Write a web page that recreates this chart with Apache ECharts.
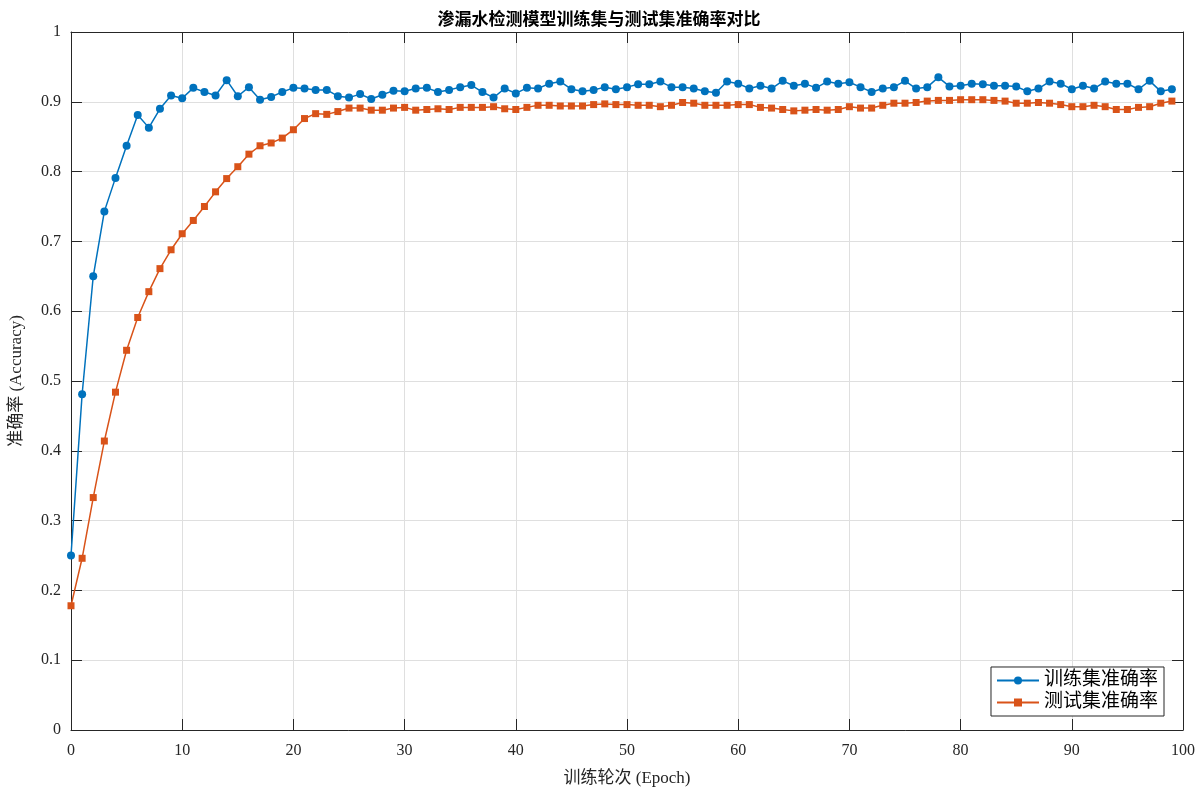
<!DOCTYPE html>
<html>
<head>
<meta charset="utf-8">
<script src="https://cdn.jsdelivr.net/npm/echarts@6/dist/echarts.min.js"></script>
<style>
html,body{margin:0;padding:0;background:#fff;}
#c{width:1198px;height:792px;}
</style>
</head>
<body>
<div id="c"></div>
<script>
const xTicks = [0,10,20,30,40,50,60,70,80,90,100];
const yTicks = [0,0.1,0.2,0.3,0.4,0.5,0.6,0.7,0.8,0.9,1];

const trainAcc = [
0.250,0.481,0.650,0.743,0.791,0.837,0.881,0.863,0.890,0.909,
0.905,0.920,0.914,0.909,0.931,0.908,0.921,0.903,0.907,0.914,
0.920,0.919,0.917,0.917,0.908,0.906,0.911,0.904,0.910,0.916,
0.915,0.919,0.920,0.914,0.917,0.921,0.924,0.914,0.906,0.919,
0.912,0.920,0.919,0.926,0.929,0.918,0.915,0.917,0.921,0.918,
0.921,0.925,0.925,0.929,0.921,0.921,0.919,0.915,0.913,0.929,
0.926,0.919,0.923,0.919,0.930,0.923,0.926,0.920,0.929,0.926,
0.928,0.921,0.914,0.919,0.921,0.930,0.919,0.921,0.935,0.922,
0.923,0.926,0.925,0.923,0.923,0.922,0.915,0.919,0.929,0.926,
0.918,0.923,0.919,0.929,0.926,0.926,0.918,0.930,0.915,0.918
];

const testAcc = [
0.178,0.246,0.333,0.414,0.484,0.544,0.591,0.628,0.661,0.688,
0.711,0.730,0.750,0.771,0.790,0.807,0.825,0.837,0.841,0.848,
0.860,0.876,0.883,0.882,0.886,0.891,0.891,0.888,0.888,0.891,
0.892,0.888,0.889,0.890,0.889,0.892,0.892,0.892,0.893,0.890,
0.889,0.892,0.895,0.895,0.894,0.894,0.894,0.896,0.897,0.896,
0.896,0.895,0.895,0.893,0.895,0.899,0.898,0.895,0.895,0.895,
0.896,0.896,0.892,0.891,0.889,0.887,0.888,0.889,0.888,0.889,
0.893,0.891,0.891,0.895,0.898,0.898,0.899,0.901,0.902,0.902,
0.903,0.903,0.903,0.902,0.901,0.898,0.898,0.899,0.898,0.896,
0.893,0.893,0.895,0.893,0.889,0.889,0.892,0.893,0.898,0.901
];

const titleText = '渗漏水检测模型训练集与测试集准确率对比';
const seriesNames = ['训练集准确率','测试集准确率'];
const xName = '训练轮次 (Epoch)';
const yName = '准确率 (Accuracy)';

const FONT = '"Liberation Serif","DejaVu Serif","Noto Sans CJK SC",serif';
const AX = '#262626';

const chart = echarts.init(document.getElementById('c'), null, {renderer:'canvas'});

const toPairs = arr => arr.map((v,i)=>[i,v]);

const baseX = {
  type:'value', min:xTicks[0], max:xTicks[xTicks.length-1], interval:10,
  axisLine:{show:true,onZero:false,lineStyle:{color:AX,width:1}},
  axisTick:{show:true,inside:true,length:11,lineStyle:{color:AX,width:1}},
  splitLine:{show:false}
};
const baseY = {
  type:'value', min:yTicks[0], max:yTicks[yTicks.length-1], interval:0.1,
  axisLine:{show:true,onZero:false,lineStyle:{color:AX,width:1}},
  axisTick:{show:true,inside:true,length:11,lineStyle:{color:AX,width:1}},
  splitLine:{show:false}
};

chart.setOption({
  backgroundColor:'#ffffff',
  animation:false,
  title:{
    text:titleText, left:'center', top:7,
    textStyle:{fontFamily:FONT,fontSize:17,fontWeight:'bold',color:'#000'}
  },
  grid:{left:70,right:15,top:32,bottom:56,containLabel:false},
  legend:{
    data:seriesNames, orient:'vertical', right:34, bottom:76,
    backgroundColor:'#fff', borderColor:AX, borderWidth:1, borderRadius:0,
    padding:[4,6,4,5], itemGap:3, itemWidth:42, itemHeight:10,
    textStyle:{fontFamily:FONT,fontSize:19,color:'#000'}
  },
  xAxis:[
    Object.assign({}, baseX, {
      position:'bottom',
      name:xName, nameLocation:'middle', nameGap:40,
      nameTextStyle:{fontFamily:FONT,fontSize:17,color:'#262626'},
      axisLabel:{show:true,margin:13,fontFamily:FONT,fontSize:16,color:'#262626'},
      splitLine:{show:true,lineStyle:{color:'#dfdfdf',width:1}}
    }),
    Object.assign({}, baseX, {position:'top', axisLabel:{show:false}})
  ],
  yAxis:[
    Object.assign({}, baseY, {
      position:'left',
      name:yName, nameLocation:'middle', nameGap:46, nameRotate:90,
      nameTextStyle:{fontFamily:FONT,fontSize:17,color:'#262626'},
      axisLabel:{show:true,margin:10,fontFamily:FONT,fontSize:16,color:'#262626'},
      splitLine:{show:true,lineStyle:{color:'#dfdfdf',width:1}}
    }),
    Object.assign({}, baseY, {position:'right', axisLabel:{show:false}})
  ],
  series:[
    {
      name:seriesNames[0], type:'line', xAxisIndex:0, yAxisIndex:0,
      data:toPairs(trainAcc), symbol:'circle', symbolSize:8, showAllSymbol:true,
      lineStyle:{color:'#0072BD',width:1.5}, itemStyle:{color:'#0072BD'},
      z:3
    },
    {
      name:seriesNames[1], type:'line', xAxisIndex:0, yAxisIndex:0,
      data:toPairs(testAcc), symbol:'rect', symbolSize:7, showAllSymbol:true,
      lineStyle:{color:'#D95319',width:1.5}, itemStyle:{color:'#D95319'},
      z:2
    }
  ]
});
</script>
</body>
</html>
